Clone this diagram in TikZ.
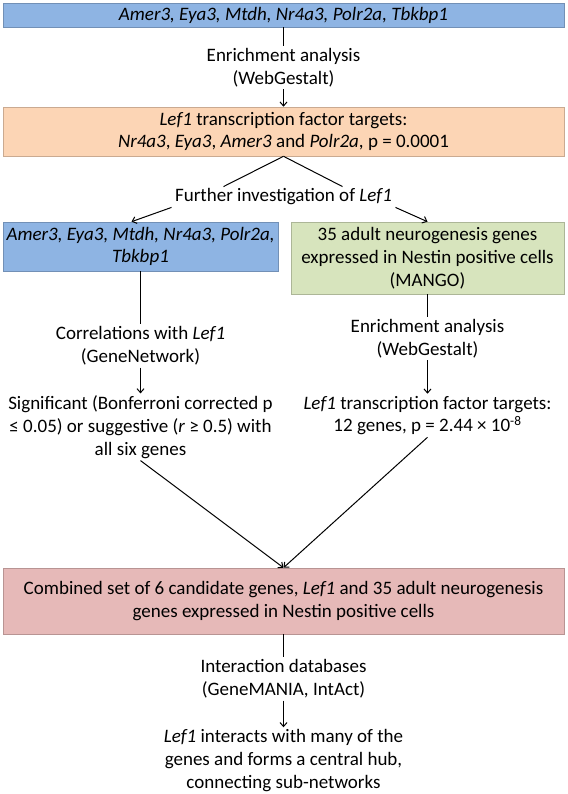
\documentclass[tikz,border=0pt]{standalone}
\usepackage{fontspec}
\setmainfont{Carlito}
\usetikzlibrary{arrows.meta}
\definecolor{geneblue}{HTML}{8EB4E3}
\definecolor{tforange}{HTML}{FCD5B5}
\definecolor{mangogreen}{HTML}{D7E4BD}
\definecolor{setpink}{HTML}{E6B9B8}

\begin{document}
\begin{tikzpicture}[x=1pt, y=-1pt,
        box/.style={draw=#1!80!black, fill=#1, line width=0.6pt, inner sep=0pt, align=center, font=\fontsize{19}{22.8}\selectfont},
        note/.style={inner sep=2pt, align=center, font=\fontsize{19}{22.8}\selectfont},
        link/.style={line width=1pt},
        >={Straight Barb[length=4pt,width=7pt]}
    ]
        \useasboundingbox (0,0) rectangle (567,794);

        \node (cands) at (283.5,15) [box=geneblue, minimum width=561pt, minimum height=24pt] {\textit{Amer3, Eya3, Mtdh, Nr4a3, Polr2a, Tbkbp1}};
        \node (enrichA) at (283.5,67.5) [note] {Enrichment analysis\\(WebGestalt)};
        \node (targetsA) at (283.5,131.5) [box=tforange, minimum width=561pt, minimum height=49pt] {\textit{Lef1} transcription factor targets:\\\textit{Nr4a3}, \textit{Eya3}, \textit{Amer3} and \textit{Polr2a}, p = 0.0001};
        \node (further) at (283.5,197) [note] {Further investigation of \textit{Lef1}};

        \node (genes) at (140.5,246.5) [box=geneblue, minimum width=275pt, minimum height=49pt] {\textit{Amer3, Eya3, Mtdh, Nr4a3, Polr2a,}\\\textit{Tbkbp1}};
        \node (corr) at (140.5,346) [note] {Correlations with \textit{Lef1}\\(GeneNetwork)};
        \node (signif) at (140.5,427) [note] {Significant (Bonferroni corrected p\\≤ 0.05) or suggestive (\textit{r} ≥ 0.5) with\\all six genes};

        \node (mango) at (427.5,258) [box=mangogreen, minimum width=273pt, minimum height=72pt] {35 adult neurogenesis genes\\expressed in Nestin positive cells\\(MANGO)};
        \node (enrichB) at (427.5,338.5) [note] {Enrichment analysis\\(WebGestalt)};
        \node (targetsB) at (427.5,415.5) [note] {\textit{Lef1} transcription factor targets:\\12 genes, p = 2.44 × 10\textsuperscript{-8}};

        \node (combined) at (283.5,601) [box=setpink, minimum width=561pt, minimum height=66pt] {Combined set of 6 candidate genes, \textit{Lef1} and 35 adult neurogenesis\\genes expressed in Nestin positive cells};
        \node (interact) at (283.5,679) [note] {Interaction databases\\(GeneMANIA, IntAct)};
        \node (hub) at (283.5,760.5) [note] {\textit{Lef1} interacts with many of the\\genes and forms a central hub,\\connecting sub-networks};

        \draw[link] (cands) -- (enrichA);
        \draw[link,->] (enrichA) -- (targetsA);
        \draw[link] (targetsA.south) -- ([xshift=-60pt]further.north);
        \draw[link] (targetsA.south) -- ([xshift=59pt]further.north);
        \draw[link,->] ([xshift=-112pt]further.south) -- ([xshift=-9pt]genes.north);
        \draw[link,->] ([xshift=112pt]further.south) -- (mango.north);

        \draw[link] (genes) -- (corr);
        \draw[link,->] (corr) -- (signif);
        \draw[link] (mango) -- (enrichB);
        \draw[link,->] (enrichB) -- (targetsB);

        \draw[link,->] (signif.south) -- (combined.north);
        \draw[link,->] (targetsB.south) -- (combined.north);
        \draw[link] (combined) -- (interact);
        \draw[link,->] (interact) -- (hub);
    \end{tikzpicture}
\end{document}
